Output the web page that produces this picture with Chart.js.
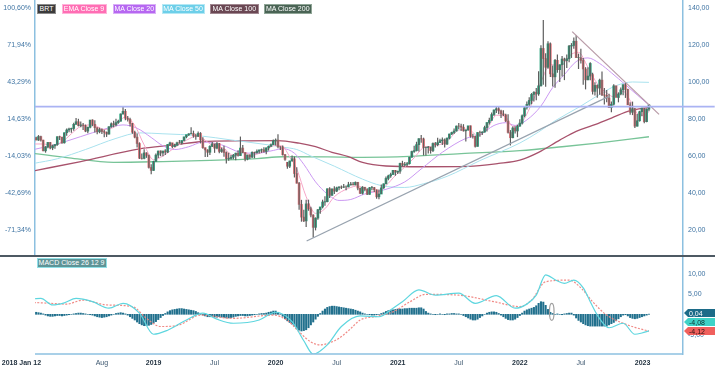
<!DOCTYPE html>
<html>
<head>
<meta charset="utf-8">
<script src="https://cdn.jsdelivr.net/npm/chart.js@4.4.1/dist/chart.umd.min.js"></script>
<style>
body { margin: 0; background: #fff; }
#wrap { position: relative; width: 715px; height: 371px; overflow: hidden; font-family: 'Liberation Sans', Arial, sans-serif; }
.tag { position: absolute; top: 3.5px; height: 10px; line-height: 8px; font-size: 7px; color: #fff; text-align: center; box-sizing: border-box; border: 1px solid; white-space: nowrap; }
</style>
</head>
<body>
<div id="wrap">
  <canvas id="mainChart" width="715" height="255" style="position:absolute;left:0;top:0"></canvas>
  <div style="position:absolute;left:0;top:255px;width:715px;height:2px;background:#4d5963"></div>
  <canvas id="macdChart" width="715" height="114" style="position:absolute;left:0;top:257px"></canvas>

  <div class="tag" style="left:37px;width:19px;background:#3b3b3b;border-color:#8a8a8a">BRT</div>
  <div class="tag" style="left:61.5px;width:45px;background:#ff6eb4;border-color:#ffb3d9">EMA Close 9</div>
  <div class="tag" style="left:112.5px;width:43.5px;background:#b667f1;border-color:#d9b0f7">MA Close 20</div>
  <div class="tag" style="left:161.5px;width:43px;background:#6dcfe9;border-color:#b5e8f4">MA Close 50</div>
  <div class="tag" style="left:210px;width:48.5px;background:#6a4753;border-color:#a08790">MA Close 100</div>
  <div class="tag" style="left:263.5px;width:48.5px;background:#4a6455;border-color:#8fa596">MA Close 200</div>
  <div class="tag" style="left:36.5px;top:258.3px;width:70px;height:9.5px;background:#5e9497;border-color:#8fe0e6">MACD Close 26 12 9</div>
</div>
<script>
// weekly BRT candles, week 0 = 2018 Jan 12
const opens = [
  67.8,69.87,68.61,70.52,68.58,62.79,64.84,67.31,64.37,65.49,66.21,70.45,70.27,67.11,72.58,74.06,74.64,74.87,77.12,78.51,
  76.44,76.79,76.46,73.44,75.55,79.44,77.11,75.33,73.07,74.29,73.21,72.81,71.83,75.82,77.42,76.83,78.09,78.80,82.72,84.16,
  80.43,79.78,77.62,72.83,70.18,66.76,58.80,58.71,61.67,60.28,53.82,52.20,57.06,60.48,62.70,61.64,62.75,62.10,66.25,67.12,
  65.07,65.74,67.16,67.03,68.39,70.34,71.55,71.97,72.15,70.85,70.62,72.21,68.69,64.49,63.29,62.01,65.20,66.55,64.23,66.72,
  62.47,63.46,61.89,58.53,58.64,59.34,60.43,61.54,60.22,64.28,61.91,58.37,60.51,59.42,62.02,61.69,62.51,63.30,63.39,62.43,
  64.39,65.22,66.14,68.16,68.60,64.98,64.85,60.69,56.6,54.47,57.32,58.50,50.52,45.27,33.85,26.98,24.93,34.11,31.48,28.08,
  21.44,26.44,30.97,32.50,35.13,35.33,42.30,38.73,42.19,41.02,42.80,43.24,43.14,43.34,43.30,44.40,44.80,44.35,45.81,42.66,
  39.83,43.15,41.92,39.27,42.85,42.93,41.77,37.94,39.45,42.78,44.96,47.88,49.25,49.97,52.26,51.29,51.80,55.99,55.10,55.41,
  55.88,59.34,62.43,62.91,66.13,69.36,69.22,64.53,64.57,64.86,62.95,66.77,66.11,67.25,68.28,68.71,66.44,69.63,71.89,72.69,
  73.51,76.18,76.17,75.55,73.59,74.10,76.33,70.70,70.59,65.18,72.70,72.61,72.92,75.34,78.09,79.28,82.39,84.86,85.53,84.38,
  82.74,82.17,78.89,72.72,69.88,75.15,73.52,76.14,77.78,81.75,86.06,87.89,90.03,93.27,94.44,93.54,97.93,118.11,112.67,107.93,
  120.65,104.39,102.78,111.70,106.65,109.34,112.39,111.55,112.55,119.43,119.72,122.01,113.12,113.12,111.63,107.02,101.16,103.20,104.0,94.92,
  98.15,96.72,100.99,93.02,92.84,91.35,86.15,87.96,97.92,91.63,93.50,95.77,98.57,95.99,87.62,83.63,85.57,76.10,79.04,83.92,
  85.91,78.57,85.28
];
const highs = [
  70.05,70.4,71.3,70.9,68.8,65.3,67.5,67.6,66.1,66.4,70.6,71.0,70.3,72.7,74.8,75.2,75.3,78.0,80.5,80.1,
  78.6,77.8,77.0,75.8,79.5,79.8,79.3,75.6,75.3,74.8,74.2,73.2,76.1,78.1,79.0,80.1,79.6,83.0,86.74,85.4,
  81.6,80.7,77.8,73.6,72.2,67.4,61.3,63.7,62.0,60.8,55.6,57.4,61.3,62.8,63.0,62.7,63.6,66.4,67.7,67.2,
  66.6,67.7,68.7,68.4,70.4,71.4,72.3,75.6,73.7,72.0,73.3,72.9,70.1,64.6,63.6,65.8,67.6,66.6,67.6,67.0,
  64.6,65.6,62.4,61.7,60.6,61.1,61.7,63.1,70.5,65.9,62.0,60.7,60.8,62.4,62.3,63.5,63.4,64.0,64.7,64.6,
  65.6,66.8,68.9,69.5,71.75,65.3,65.7,61.1,56.8,57.4,60.3,59.7,53.9,45.9,36.3,31.0,36.3,36.4,32.6,28.5,
  26.8,31.3,32.3,36.4,38.2,42.4,43.1,42.5,43.7,43.4,43.7,44.0,44.9,44.0,46.0,45.9,46.0,46.2,46.0,42.8,
  43.7,43.3,42.6,43.2,43.8,43.2,41.9,41.9,44.6,45.1,48.9,49.9,51.0,52.5,52.5,52.0,56.3,57.4,56.7,56.7,
  59.5,62.8,65.5,67.7,69.6,71.4,69.9,65.1,65.4,64.9,67.3,67.6,69.8,69.3,70.0,69.5,70.0,72.0,73.1,74.9,
  76.4,77.8,77.4,77.2,74.2,76.2,76.5,72.0,71.0,72.8,73.7,73.4,76.3,78.3,80.7,83.5,85.1,86.7,86.7,85.0,
  84.7,82.8,82.6,74.0,76.0,76.1,76.9,79.8,82.4,86.7,89.5,91.7,94.0,95.0,96.8,105.8,119.8,133.5,115.5,122.0,
  121.3,108.9,112.4,114.8,109.5,114.0,113.1,114.9,120.0,121.0,124.0,125.2,115.3,118.0,113.0,108.0,108.0,110.6,105.0,99.9,
  98.6,101.7,105.6,96.7,95.7,93.7,89.4,98.8,98.0,94.4,97.0,98.6,99.5,96.3,89.0,89.4,86.0,82.7,84.4,86.1,
  86.0,85.6,88.1
];
const lows = [
  67.6,68.5,68.2,67.9,62.5,61.8,64.2,63.6,63.2,63.9,65.6,68.6,66.6,66.7,71.0,72.9,72.6,73.6,76.9,76.0,
  75.6,74.1,72.9,72.3,75.0,76.1,72.7,71.8,72.3,71.9,70.1,70.3,71.6,75.3,75.6,76.1,77.4,78.6,82.4,79.3,
  78.6,75.9,72.0,69.6,64.6,58.4,58.1,58.3,59.0,53.3,50.2,52.0,56.9,58.9,59.9,59.9,60.6,61.6,65.8,64.2,
  64.7,65.5,66.8,66.2,68.0,69.6,70.8,71.8,69.9,68.8,70.3,66.8,63.9,59.5,59.5,60.6,64.8,61.7,63.6,61.5,
  61.8,59.6,55.9,57.4,58.1,58.2,57.7,59.7,60.1,61.5,57.1,57.7,58.4,58.9,58.8,61.3,61.3,61.7,61.9,60.9,
  62.9,64.9,65.9,65.7,64.2,63.3,60.3,57.4,53.1,53.5,57.0,48.4,45.2,31.0,24.5,24.3,21.6,30.4,26.9,15.98,
  19.8,25.5,28.8,31.7,33.1,35.0,37.3,38.5,39.5,40.6,41.5,42.2,42.7,41.5,43.1,44.1,44.2,44.2,41.5,39.4,
  39.2,40.9,38.9,39.1,41.5,40.6,36.9,36.6,39.4,42.3,44.8,46.9,48.2,49.9,49.3,50.3,50.4,54.5,54.3,54.6,
  55.4,59.0,61.8,62.5,62.4,67.2,60.3,60.3,61.4,61.3,62.1,64.6,65.3,67.0,66.0,64.6,66.0,69.0,71.3,71.9,
  73.3,74.5,73.5,73.2,67.9,73.6,69.9,69.5,64.6,65.1,70.4,71.3,72.7,73.3,77.0,79.0,81.6,83.3,82.6,80.6,
  81.6,78.4,72.1,65.7,69.6,72.1,70.2,75.8,77.0,80.9,85.1,86.6,88.0,89.5,90.1,92.6,97.6,98.5,97.4,107.2,
  102.7,97.6,96.9,105.0,100.0,103.0,101.0,107.6,110.7,113.0,118.0,113.1,107.0,110.0,98.5,96.0,101.0,101.0,93.2,92.7,
  91.5,93.1,92.4,87.8,89.0,85.9,83.7,87.3,91.6,89.0,92.8,92.8,91.4,87.5,82.3,82.1,75.1,75.9,78.6,81.5,
  77.7,78.2,84.2
];
const closes = [
  69.87,68.61,70.52,68.58,62.79,64.84,67.31,64.37,65.49,66.21,70.45,70.27,67.11,72.58,74.06,74.64,74.87,77.12,78.51,76.44,
  76.79,76.46,73.44,75.55,79.44,77.11,75.33,73.07,74.29,73.21,72.81,71.83,75.82,77.42,76.83,78.09,78.80,82.72,84.16,80.43,
  79.78,77.62,72.83,70.18,66.76,58.80,58.71,61.67,60.28,53.82,52.20,57.06,60.48,62.70,61.64,62.75,62.10,66.25,67.12,65.07,
  65.74,67.16,67.03,68.39,70.34,71.55,71.97,72.15,70.85,70.62,72.21,68.69,64.49,63.29,62.01,65.20,66.55,64.23,66.72,62.47,
  63.46,61.89,58.53,58.64,59.34,60.43,61.54,60.22,64.28,61.91,58.37,60.51,59.42,62.02,61.69,62.51,63.30,63.39,62.43,64.39,
  65.22,66.14,68.16,68.60,64.98,64.85,60.69,58.16,54.47,57.32,58.50,50.52,45.27,33.85,26.98,24.93,34.11,31.48,28.08,21.44,
  26.44,30.97,32.50,35.13,35.33,42.30,38.73,42.19,41.02,42.80,43.24,43.14,43.34,43.30,44.40,44.80,44.35,45.81,42.66,39.83,
  43.15,41.92,39.27,42.85,42.93,41.77,37.94,39.45,42.78,44.96,47.88,49.25,49.97,52.26,51.29,51.80,55.99,55.10,55.41,55.88,
  59.34,62.43,62.91,66.13,69.36,69.22,64.53,64.57,64.86,62.95,66.77,66.11,67.25,68.28,68.71,66.44,69.63,71.89,72.69,73.51,
  76.18,76.17,75.55,73.59,74.10,76.33,70.70,70.59,65.18,72.70,72.61,72.92,75.34,78.09,79.28,82.39,84.86,85.53,84.38,82.74,
  82.17,78.89,72.72,69.88,75.15,73.52,76.14,77.78,81.75,86.06,87.89,90.03,93.27,94.44,93.54,97.93,118.11,112.67,107.93,120.65,
  104.39,102.78,111.70,106.65,109.34,112.39,111.55,112.55,119.43,119.72,122.01,113.12,113.12,111.63,107.02,101.16,103.20,110.01,94.92,98.15,
  96.72,100.99,93.02,92.84,91.35,86.15,87.96,97.92,91.63,93.50,95.77,98.57,95.99,87.62,83.63,85.57,76.10,79.04,83.92,85.91,
  78.57,85.28,87.63
];

// indicator lines: [week, value]
const ema9 = [[0,66.5],[4,66.5],[8,65.5],[12,67.5],[16,72],[20,76],[25,76.8],[30,74.3],[34,75.5],[39,81],[43,76.5],[47,66],[51,58],[55,60],
  [60,64.5],[65,68.5],[70,71],[73,68.5],[77,65],[81,64],[85,60.3],[89,62],[93,60.5],[98,62.5],[103,65.8],[106,65.2],[109,59.5],[112,53],
  [116,38],[120,29],[124,31.5],[128,38],[134,42.5],[138,43.8],[142,41.5],[146,40.5],[150,44],[154,49.5],[158,54],[162,59],[166,64.5],
  [170,65.3],[176,68],[181,74],[185,74.5],[189,71],[193,74.5],[197,82],[201,81],[204,76],[208,78.5],[212,88],[216,100],[220,109.5],
  [224,108.5],[229,115],[232,116],[236,108],[240,99],[244,94],[247,92],[251,95],[254,90],[257,83],[260,82],[262,84]];
const ma20 = [[0,63.5],[10,66.5],[20,70.5],[30,74.5],[38,76.8],[44,75],[50,70],[55,65.5],[60,63.5],[66,65],[72,67.5],[80,66],[88,62],
  [95,61.5],[102,63],[106,64],[111,61.5],[115,55.5],[120,46],[125,39.5],[130,36],[135,36.5],[141,39.5],[150,42],[158,46],[165,53],
  [174,62],[184,69.5],[190,71.5],[196,76.5],[201,78],[205,76.5],[210,79.5],[216,87],[221,97],[226,104],[231,111],[236,113],[241,110],
  [246,105],[252,98.5],[257,93],[262,87.5]];
const ma50 = [[0,56],[10,58.5],[22,63.5],[35,69.5],[45,72.5],[55,72],[70,71],[85,68.5],[100,66],[106,64.8],[112,63.5],[118,60],
  [128,54.5],[140,47.5],[148,44],[158,43],[166,45],[176,49],[190,57.5],[207,67],[215,73],[222,79],[233,87],[240,92.5],[248,98],
  [255,100],[262,99.8]];
const ma100 = [[0,52],[20,57],[45,63.8],[60,66],[71,67.7],[90,68.2],[104,68.3],[113,66.9],[120,65],[127,62],[134,59.6],[140,56.5],
  [150,54.6],[165,54.2],[185,54.4],[198,56],[207,57.8],[215,62],[224,68.6],[231,73.3],[238,76.5],[246,80.5],[254,84.5],[262,86.3]];
const ma200 = [[0,61.4],[15,59],[34,56.6],[55,57],[75,57.6],[95,58.6],[106,59.6],[125,59.5],[140,59.3],[160,59.8],[182,61.3],
  [207,62.9],[225,65],[240,67],[262,70.4]];

// drawn lines
const resistance = [[0.5,86.7],[290,86.7]];
const trendUp = [[116.2,14.05],[244.7,92.1]];
const trendDown = [[229.3,127.2],[266.3,82.5]];

// MACD 26 12 9
const macdLine = [[0,3.8],[3,3.9],[8,2.3],[13,2.8],[18,3.9],[25,3.1],[32,1.5],[38,2.7],[45,0.3],[51,-4.9],[57,-3.9],[65,-1.4],
  [72,0.3],[78,-1.2],[85,-2.2],[96,-1.4],[103,0.5],[110,-1.8],[115,-6.5],[119,-9.8],[125,-7.5],[131,-3.0],[139,-0.4],[147,-0.6],
  [153,1.5],[157,3.1],[164,6.0],[171,4.7],[181,5.2],[188,2.7],[197,4.6],[205,1.5],[210,2.5],[214,4.7],[218,9.7],[222,8.5],
  [226,7.6],[230,8.4],[234,6.5],[237,3.1],[240,-0.2],[245,-3.3],[251,-2.2],[256,-4.9],[259,-4.6],[262,-4.08]];
const signalLine = [[0,2.9],[7,2.7],[14,2.5],[21,3.5],[31,2.3],[42,1.9],[48,-1.0],[54,-3.0],[62,-2.6],[71,-0.2],[85,-1.0],
  [102,-0.2],[108,-1.5],[113,-4.3],[118,-6.8],[122,-7.5],[126,-7.0],[130,-5.9],[135,-3.5],[139,-1.4],[146,-0.5],[153,0.6],
  [160,3.0],[167,4.9],[181,4.7],[196,3.1],[207,1.9],[212,3.5],[218,8.0],[228,8.4],[233,6.5],[238,3.1],[244,-0.2],[251,-2.2],
  [256,-3.2],[262,-4.12]];
const macdHist = [
  0.5,0.5,0.4,0.3,0.1,-0.2,-0.4,-0.5,-0.5,-0.4,-0.3,-0.3,-0.4,-0.3,-0.2,-0.1,0.0,0.1,0.2,0.3,0.3,
  0.2,0.1,0.0,-0.1,-0.2,-0.4,-0.6,-0.7,-0.8,-0.7,
  -0.6,-0.4,-0.2,0.0,0.2,0.3,0.4,0.3,0.1,-0.2,
  -0.6,-1.0,-1.4,-1.9,-2.3,-2.6,-2.8,-2.8,-2.7,-2.5,
  -2.2,-1.8,-1.3,-0.8,-0.3,0.2,0.6,0.9,1.1,1.2,
  1.3,1.4,1.4,1.3,1.2,1.1,1.0,0.9,0.7,0.4,
  0.1,-0.2,-0.4,-0.6,-0.6,-0.6,-0.7,-0.7,-0.6,-0.7,
  -0.8,-0.9,-0.9,-0.8,-0.7,-0.5,-0.4,-0.3,-0.3,-0.4,
  -0.4,-0.3,-0.2,-0.1,0.0,0.1,0.2,0.2,0.3,0.5,
  0.6,0.8,0.8,0.5,0.1,-0.5,-1.1,-1.6,-2.0,-2.4,
  -2.9,-3.5,-3.9,-4.1,-4.0,-3.8,-3.3,-2.6,-1.9,-1.2,
  -0.5,0.2,0.8,1.3,1.7,1.9,2.0,2.0,1.9,1.8,
  1.7,1.6,1.5,1.4,1.3,1.2,1.0,0.8,0.6,0.3,
  0.1,0.0,-0.1,-0.2,-0.2,-0.1,0.0,0.2,0.4,0.7,
  0.9,1.0,1.1,1.2,1.3,1.3,1.3,1.4,1.4,1.5,
  1.5,1.5,1.5,1.6,1.6,1.3,0.7,0.3,0.1,0.0,
  -0.1,0.0,0.1,0.0,-0.1,0.1,0.1,0.2,0.2,0.1,
  0.1,0.0,-0.3,-0.6,-0.9,-1.2,-1.4,-1.4,-1.2,-0.8,
  -0.4,0.0,0.3,0.5,0.6,0.6,0.5,0.2,-0.2,-0.6,
  -1.0,-1.3,-1.4,-1.4,-1.2,-0.8,-0.3,0.3,0.8,1.1,
  1.3,1.5,1.7,2.1,2.7,3.1,3.0,2.2,1.2,0.5,
  0.2,0.0,0.1,0.0,-0.1,0.1,0.2,0.3,0.3,-0.2,
  -0.9,-1.5,-1.9,-2.3,-2.6,-2.8,-2.9,-2.9,-2.9,-2.9,
  -2.9,-2.9,-2.9,-2.9,-2.6,-2.3,-2.0,-1.6,-1.1,-0.6,
  -0.2,-0.1,-0.4,-0.8,-1.0,-1.1,-1.0,-0.8,-0.6,-0.4,-0.2,0.04
];

// axis ticks
const xTickWeeks = [3.1, 29, 51, 77, 103, 129, 155, 181, 207, 233, 259.3];
const xTickLabels = ['2018 Jan 12', 'Aug', '2019', 'Jul', '2020', 'Jul', '2021', 'Jul', '2022', 'Jul', '2023'];
const xTickBold = [true, false, true, false, true, false, true, false, true, false, true];
const priceTicks = [20, 40, 60, 80, 100, 120, 140];
const priceLabels = ['20,00', '40,00', '60,00', '80,00', '100,00', '120,00', '140,00'];
const pctLabels = ['-71,34%', '-42,69%', '-14,03%', '14,63%', '43,29%', '71,94%', '100,60%'];
const macdTicks = [-5, 0, 5, 10];
const macdLabels = ['-5,00', '0,00', '5,00', '10,00'];

Chart.defaults.font.family = "'Liberation Sans', Arial, sans-serif";
Chart.defaults.font.size = 7;

const xMin = 0.51, xMax = 276.5;
const axisBlue = '#8cc0e0';
const labelBlue = '#3f74a3';
const toXY = pts => pts.map(p => ({ x: p[0], y: p[1] }));

function maLine(pts, color, width, order) {
    return {
        type: 'line', data: toXY(pts), borderColor: color, borderWidth: width,
        pointRadius: 0, cubicInterpolationMode: 'monotone', yAxisID: 'y', order: order
    };
}

function fixAxis(width) {
    return function(s) {
        s.width = width;
        s.paddingTop = 0;
        s.paddingBottom = 0;
    };
}

const bodyColors = opens.map((o, i) => closes[i] >= o ? '#24a27c' : '#e8737a');

new Chart(document.getElementById('mainChart'), {
    type: 'bar',
    data: {
        datasets: [
            { type: 'line', data: toXY(resistance), borderColor: '#aab3f3', borderWidth: 1.8, pointRadius: 0, yAxisID: 'y', order: 0,
              clip: { left: 0, top: 0, right: 40, bottom: 0 } },
            { type: 'line', data: toXY(trendUp), borderColor: '#98a3af', borderWidth: 1.3, pointRadius: 0, yAxisID: 'y', order: 1 },
            { type: 'line', data: toXY(trendDown), borderColor: '#b99ca8', borderWidth: 1.3, pointRadius: 0, yAxisID: 'y', order: 1 },
            { data: highs.map((h, i) => ({ x: i, y: [lows[i], h] })), backgroundColor: '#5e5e5e',
              barThickness: 1.2, grouped: false, inflateAmount: 0, yAxisID: 'y', order: 2 },
            { data: opens.map((o, i) => ({ x: i, y: [o, closes[i]] })), backgroundColor: bodyColors,
              barThickness: 2, grouped: false, yAxisID: 'y', order: 3 },
            maLine(ema9, '#f6a6c8', 1, 4),
            maLine(ma20, '#cb98f2', 1, 5),
            maLine(ma50, '#a9e2ee', 1, 6),
            maLine(ma100, '#a8526c', 1.3, 7),
            maLine(ma200, '#78c498', 1.3, 8)
        ]
    },
    options: {
        responsive: false,
        animation: false,
        layout: { padding: 0 },
        plugins: { legend: { display: false }, tooltip: { enabled: false } },
        scales: {
            x: { type: 'linear', min: xMin, max: xMax, display: false, offset: false },
            y: {
                position: 'right', min: 6.5, max: 144.3,
                afterBuildTicks: s => { s.ticks = priceTicks.map(v => ({ value: v })); },
                afterFit: fixAxis(32),
                ticks: { callback: (v, i) => priceLabels[i], color: labelBlue, padding: 5, autoSkip: false },
                grid: { display: false, drawTicks: false },
                border: { color: axisBlue, width: 1.5 }
            },
            yl: {
                position: 'left', min: 6.5, max: 144.3,
                afterBuildTicks: s => { s.ticks = priceTicks.map(v => ({ value: v })); },
                afterFit: fixAxis(35),
                ticks: { callback: (v, i) => pctLabels[i], color: labelBlue, padding: 4, autoSkip: false },
                grid: { display: false, drawTicks: false },
                border: { color: axisBlue, width: 1.5 }
            }
        }
    }
});

// bottom axis, date labels, marker and last-value badges of the MACD pane
const macdDecor = {
    id: 'macdDecor',
    afterDraw(chart) {
        const { ctx, chartArea, scales } = chart;
        const xs = scales.x, ys = scales.y;
        ctx.save();

        ctx.strokeStyle = axisBlue;
        ctx.lineWidth = 1.5;
        ctx.beginPath();
        ctx.moveTo(chartArea.left, chartArea.bottom);
        ctx.lineTo(chartArea.right, chartArea.bottom);
        ctx.stroke();

        // grey ellipse marker drawn on the pane
        ctx.strokeStyle = '#a0a0a0';
        ctx.lineWidth = 1.2;
        ctx.beginPath();
        ctx.ellipse(xs.getPixelForValue(220.6), ys.getPixelForValue(0.6), 2.3, 8.5, 0, 0, Math.PI * 2);
        ctx.stroke();

        ctx.textBaseline = 'middle';
        xTickWeeks.forEach((w, k) => {
            const px = xs.getPixelForValue(w);
            ctx.font = (xTickBold[k] ? 'bold ' : '') + "7px 'Liberation Sans', Arial, sans-serif";
            ctx.fillStyle = xTickBold[k] ? '#1f2f3d' : '#3e5870';
            ctx.textAlign = k === 0 ? 'right' : 'center';
            ctx.fillText(xTickLabels[k], px, chartArea.bottom + 9);
        });

        const badges = [
            { v: macdHist[macdHist.length - 1], bg: '#1c6b88', fg: '#ffffff' },
            { v: macdLine[macdLine.length - 1][1], bg: '#3fd2c7', fg: '#10302e' },
            { v: signalLine[signalLine.length - 1][1], bg: '#f0605d', fg: '#2a1010' }
        ];
        badges.forEach(b => { b.y = ys.getPixelForValue(b.v); });
        badges.sort((a, b) => b.y - a.y);
        for (let k = 1; k < badges.length; k++) {
            badges[k].y = Math.min(badges[k].y, badges[k - 1].y - 9);
        }
        ctx.font = "7px 'Liberation Sans', Arial, sans-serif";
        ctx.textAlign = 'left';
        badges.forEach(b => {
            const x0 = chartArea.right + 1;
            ctx.fillStyle = b.bg;
            ctx.beginPath();
            ctx.moveTo(x0, b.y);
            ctx.lineTo(x0 + 4, b.y - 4);
            ctx.lineTo(x0 + 31, b.y - 4);
            ctx.lineTo(x0 + 31, b.y + 4);
            ctx.lineTo(x0 + 4, b.y + 4);
            ctx.closePath();
            ctx.fill();
            ctx.fillStyle = b.fg;
            ctx.fillText(b.v.toFixed(2).replace('.', ','), x0 + 5, b.y + 0.5);
        });
        ctx.restore();
    }
};

new Chart(document.getElementById('macdChart'), {
    type: 'bar',
    data: {
        datasets: [
            { type: 'line', data: toXY(macdLine), borderColor: '#5ed6df', borderWidth: 1.2, pointRadius: 0,
              cubicInterpolationMode: 'monotone', order: 0 },
            { type: 'line', data: toXY(signalLine), borderColor: '#f08a86', borderWidth: 1.2, borderDash: [2, 1.5],
              pointRadius: 0, cubicInterpolationMode: 'monotone', order: 1 },
            { data: macdHist.map((v, i) => ({ x: i, y: v })), backgroundColor: '#21708d',
              barThickness: 1.4, grouped: false, order: 2 }
        ]
    },
    options: {
        responsive: false,
        animation: false,
        layout: { padding: { left: 35, top: 1, bottom: 17, right: 0 } },
        plugins: { legend: { display: false }, tooltip: { enabled: false } },
        scales: {
            x: { type: 'linear', min: xMin, max: xMax, display: false, offset: false },
            y: {
                position: 'right', min: -9.75, max: 13.83,
                afterBuildTicks: s => { s.ticks = macdTicks.map(v => ({ value: v })); },
                afterFit: fixAxis(32),
                ticks: { callback: (v, i) => macdLabels[i], color: labelBlue, padding: 5, autoSkip: false },
                grid: { display: false, drawTicks: false },
                border: { color: axisBlue, width: 1.5 }
            }
        }
    },
    plugins: [macdDecor]
});
</script>
</body>
</html>
